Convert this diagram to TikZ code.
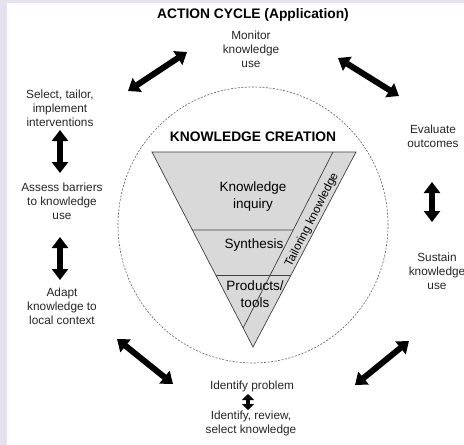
\documentclass[tikz,border=0pt]{standalone}
\usepackage{fontspec}
\setmainfont{Liberation Sans}
\usetikzlibrary{arrows.meta,calc}
\definecolor{frame}{HTML}{E6E1EF}
\definecolor{funnel}{HTML}{D9D9D9}
\definecolor{edge}{HTML}{404040}
\definecolor{ink}{HTML}{262626}
\definecolor{dashgray}{HTML}{606060}

\begin{document}
\begin{tikzpicture}[x=1pt,y=-1pt,
  phase/.style={align=center, font=\fontsize{11.8}{14}\selectfont, text=ink, inner sep=0pt},
  heading/.style={font=\bfseries\fontsize{13.8}{15}\selectfont, text=black, inner sep=0pt},
  stage/.style={align=center, font=\fontsize{13.5}{17}\selectfont, text=black, inner sep=0pt},
  cyclearrow/.style={line width=6pt, {Triangle[width=16pt,length=11pt]}-{Triangle[width=16pt,length=11pt]}},
  smallarrow/.style={line width=4pt, {Triangle[width=12pt,length=6pt]}-{Triangle[width=12pt,length=6pt]}},
]
\useasboundingbox (0,0) rectangle (464,445);
\fill[white] (0,0) rectangle (464,445);
% page frame strips
\fill[frame] (0,0) rectangle (7,445);
\fill[frame] (0,0) rectangle (464,3);

% knowledge creation boundary
\draw[dashgray, line width=0.6pt, dash pattern=on 2pt off 1.5pt] (253,225) ellipse [x radius=135pt, y radius=138pt];

% funnel
\coordinate (tl) at (152,152);
\coordinate (tr) at (356,152);
\coordinate (apex) at (253,347);
\coordinate (bandtop) at (333,152);
\coordinate (bandfoot) at ($(tl)!0.9026!(apex)$);
\filldraw[fill=funnel, draw=edge, line width=0.7pt] (tl) -- (tr) -- (apex) -- cycle;
\draw[edge, line width=0.7pt] (bandtop) -- (bandfoot);
\coordinate (l1a) at ($(tl)!0.4!(apex)$);
\coordinate (l1b) at ($(bandtop)!0.4432!(bandfoot)$);
\coordinate (l2a) at ($(tl)!0.6308!(apex)$);
\coordinate (l2b) at ($(tr)!0.6308!(apex)$);
\draw[edge, line width=0.7pt] (l1a) -- (l1b);
\draw[edge, line width=0.7pt] (l2a) -- (l2b);

\node[heading] (creation) at (253,137) {KNOWLEDGE CREATION};
\node[stage] (inquiry) at (253,197) {Knowledge\\inquiry};
\node[stage] (synthesis) at (254,245) {Synthesis};
\node[stage] (products) at (255,294) {Products/\\tools};
\node[font=\fontsize{11.8}{14}\selectfont, inner sep=0pt, rotate=63] (tailoring) at (312,220) {Tailoring knowledge};

% action cycle
\node[heading] (title) at (253,15) {ACTION CYCLE (Application)};
\node[phase] (monitor) at (251,49) {Monitor\\knowledge\\use};
\node[phase] (select) at (60,108) {Select, tailor,\\implement\\interventions};
\node[phase] (assess) at (62,201) {Assess barriers\\to knowledge\\use};
\node[phase] (adapt) at (62,306) {Adapt\\knowledge to\\local context};
\node[phase] (evaluate) at (433,136) {Evaluate\\outcomes};
\node[phase] (sustain) at (437,271) {Sustain\\knowledge\\use};
\node[phase] (problem) at (252,386) {Identify problem};
\node[phase] (review) at (251,423) {Identify, review,\\select knowledge};

% arrow ends
\coordinate (ms1) at (187,52);  \coordinate (ms2) at (128,91);
\coordinate (me1) at (338,58);  \coordinate (me2) at (399,96);
\coordinate (sa1) at (60,130);  \coordinate (sa2) at (60,173);
\coordinate (aa1) at (60,237);  \coordinate (aa2) at (60,280);
\coordinate (es1) at (432,182); \coordinate (es2) at (432,222);
\coordinate (ap1) at (117,339); \coordinate (ap2) at (173,384);
\coordinate (ps1) at (355,385); \coordinate (ps2) at (409,341);
\coordinate (pr1) at (248,394); \coordinate (pr2) at (248,410);

\draw[cyclearrow] (ms1) -- (ms2);
\draw[cyclearrow] (me1) -- (me2);
\draw[cyclearrow] (sa1) -- (sa2);
\draw[cyclearrow] (aa1) -- (aa2);
\draw[cyclearrow] (es1) -- (es2);
\draw[cyclearrow] (ap1) -- (ap2);
\draw[cyclearrow] (ps1) -- (ps2);
\draw[smallarrow] (pr1) -- (pr2);
\end{tikzpicture}
\end{document}
